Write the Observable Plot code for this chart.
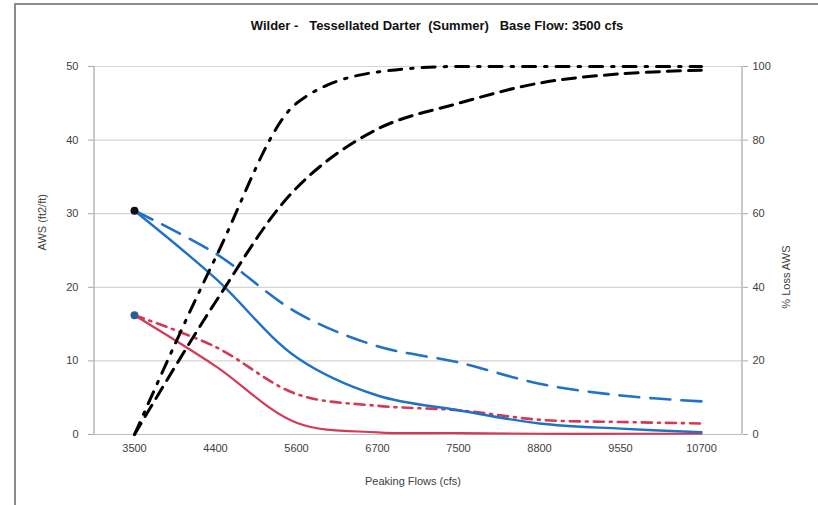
<!DOCTYPE html>
<html>
<head>
<meta charset="utf-8">
<script src="https://cdn.jsdelivr.net/npm/d3@7"></script>
<script src="https://cdn.jsdelivr.net/npm/@observablehq/plot@0.6"></script>
<style>
  html, body { margin: 0; padding: 0; background: #fff; }
  body { width: 818px; height: 505px; position: relative; overflow: hidden; font-family: "Liberation Sans", Arial, sans-serif; }
  #frame { position: absolute; left: 14px; top: 3px; width: 900px; height: 600px; border: 2px solid #8c8c8c; box-sizing: border-box; }
  #title { position: absolute; left: 0; width: 874px; top: 18px; text-align: center; font-weight: bold; font-size: 13px; color: #111; white-space: pre; }
  #chart { position: absolute; left: 0; top: 0; }
</style>
</head>
<body>
<div id="frame"></div>
<div id="chart"></div>
<div id="title">Wilder -   Tessellated Darter  (Summer)   Base Flow: 3500 cfs</div>
<script>
const cats = ["3500", "4400", "5600", "6700", "7500", "8800", "9550", "10700"];
const awsBlueSolid   = [30.4, 21.2, 10.5, 5.3, 3.3, 1.5, 0.8, 0.3];
const awsBlueDashed  = [30.4, 24.6, 16.6, 12.0, 9.8, 6.9, 5.3, 4.5];
const awsRedSolid    = [16.2, 9.3, 1.6, 0.3, 0.2, 0.1, 0.1, 0.1];
const awsRedDashDot  = [16.2, 11.9, 5.5, 3.9, 3.3, 2.0, 1.7, 1.5];
const lossDashDot    = [0, 48, 90, 98.5, 100, 100, 100, 100];
const lossDashed     = [0, 36, 67, 83, 90, 95.5, 98, 99];
const leftTicks  = [0, 10, 20, 30, 40, 50];
const rightTicks = [0, 20, 40, 60, 80, 100];

const toRows = (vals) => cats.map((c, i) => ({flow: c, v: vals[i]}));
const ratio = 50 / 100; // secondary axis (0–100) mapped onto primary (0–50)

const common = {x: "flow", y: "v", curve: "catmull-rom"};
const chart = Plot.plot({
  width: 818,
  height: 505,
  marginTop: 66,
  marginBottom: 71,
  marginLeft: 93,
  marginRight: 76,
  style: {fontFamily: "'Liberation Sans', Arial, sans-serif", fontSize: "11px", color: "#404040", background: "transparent"},
  x: {type: "point", domain: cats, padding: 0.5},
  y: {domain: [0, 50]},
  marks: [
    Plot.gridY(leftTicks, {stroke: "#d4d4d4", strokeOpacity: 1, strokeWidth: 1.2}),
    Plot.ruleX([cats[0]], {stroke: "#a6a6a6", strokeWidth: 1.2, dx: -40.5}),
    Plot.ruleX([cats[cats.length - 1]], {stroke: "#a6a6a6", strokeWidth: 1.2, dx: 40.5}),
    Plot.axisY(leftTicks, {anchor: "left", tickSize: 5, tickPadding: 10, stroke: "#a6a6a6", label: null, fontSize: 11}),
    Plot.axisY(rightTicks.map(d => d * ratio), {anchor: "right", tickSize: 5, tickPadding: 5, stroke: "#a6a6a6", label: null, tickFormat: d => d / ratio, fontSize: 11}),
    Plot.axisX({anchor: "bottom", tickSize: 0, tickPadding: 10, label: null, fontSize: 11}),
    Plot.ruleY([0], {stroke: "#bdbdbd", strokeWidth: 1.2}),
    Plot.text(["AWS (ft2/ft)"], {frameAnchor: "left", dx: -51, rotate: -90, fontSize: 11, fill: "#404040"}),
    Plot.text(["% Loss AWS"], {frameAnchor: "right", dx: 44, dy: -5, rotate: -90, fontSize: 11, fill: "#404040"}),
    Plot.text(["Peaking Flows (cfs)"], {frameAnchor: "bottom", dy: 50, dx: -5, fontSize: 11, fill: "#404040"}),
    // AWS series
    Plot.line(toRows(awsRedSolid), {...common, stroke: "#d23a55", strokeWidth: 2.2}),
    Plot.line(toRows(awsRedDashDot), {...common, stroke: "#d23a55", strokeWidth: 2.6, strokeDasharray: "10,6,2,6"}),
    Plot.line(toRows(awsBlueDashed), {...common, stroke: "#1f72c6", strokeWidth: 2.6, strokeDasharray: "20,11"}),
    Plot.line(toRows(awsBlueSolid), {...common, stroke: "#1f72c6", strokeWidth: 2.4}),
    // % Loss series (secondary axis)
    Plot.line(toRows(lossDashed), {x: "flow", y: d => d.v * ratio, curve: "catmull-rom", stroke: "#000", strokeWidth: 3, strokeDasharray: "13,8"}),
    Plot.line(toRows(lossDashDot), {x: "flow", y: d => d.v * ratio, curve: "monotone-x", stroke: "#000", strokeWidth: 3, strokeDasharray: "13,9,2.5,9"}),
    // start markers
    Plot.dot([{flow: cats[0], v: awsBlueSolid[0]}], {x: "flow", y: "v", r: 4, fill: "#111", stroke: "none"}),
    Plot.dot([{flow: cats[0], v: awsRedSolid[0]}], {x: "flow", y: "v", r: 4, fill: "#2c5d95", stroke: "none"})
  ]
});
document.getElementById("chart").appendChild(chart);
</script>
</body>
</html>
